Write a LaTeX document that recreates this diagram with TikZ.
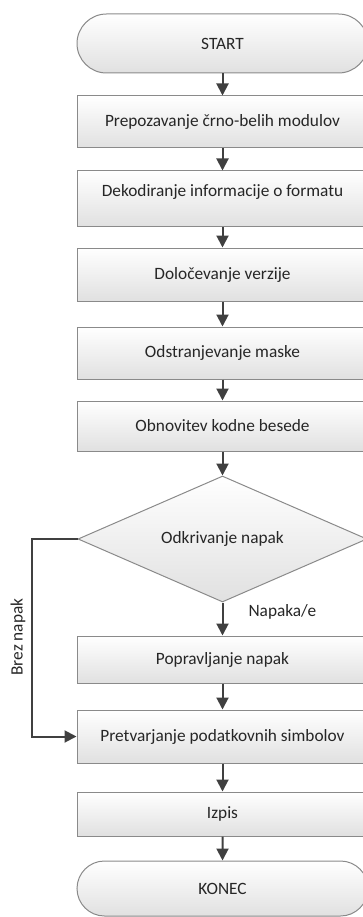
\documentclass[tikz,border=0pt]{standalone}
\usepackage{fontspec}
\setmainfont{Carlito}
\usetikzlibrary{shapes.geometric,shapes.misc,arrows.meta}
\definecolor{linec}{HTML}{404040}
\definecolor{bordc}{HTML}{8A8A8A}
\tikzset{
  x=1pt,y=-1pt,
  every node/.style={font=\fontsize{17.3}{20}\selectfont, text=black!85},
  procbox/.style={draw=bordc, line width=1pt, rectangle, minimum width=291pt,
    top color=white, bottom color=black!12, inner sep=0pt},
  termbox/.style={draw=bordc, line width=1pt, rounded rectangle, minimum width=291pt,
    top color=white, bottom color=black!12, inner sep=0pt},
  decbox/.style={draw=bordc, line width=1pt, diamond, aspect=2.29,
    minimum width=289pt, minimum height=126pt,
    top color=white, bottom color=black!12, inner sep=0pt},
  flow/.style={draw=linec, line width=2pt, -{Triangle[width=12pt,length=12pt]}},
}
\begin{document}
\begin{tikzpicture}
\useasboundingbox (0,0) rectangle (363,917);
\node[termbox, minimum height=59pt] (start) at (222.5,43.5) {START};
\node[procbox, minimum height=52pt] (b1) at (222.5,122) {Prepozavanje črno-belih modulov};
\node[procbox, minimum height=56pt, text depth=18pt] (b2) at (222.5,199) {Dekodiranje informacije o formatu};
\node[procbox, minimum height=53pt] (b3) at (222.5,274.5) {Določevanje verzije};
\node[procbox, minimum height=52pt] (b4) at (222.5,353) {Odstranjevanje maske};
\node[procbox, minimum height=50pt] (b5) at (222.5,426) {Obnovitev kodne besede};
\node[decbox] (dec) at (222.5,539) {Odkrivanje napak};
\node[procbox, minimum height=47pt] (b6) at (222.5,659.5) {Popravljanje napak};
\node[procbox, minimum height=53pt] (b7) at (222.5,736.5) {Pretvarjanje podatkovnih simbolov};
\node[procbox, minimum height=44pt] (b8) at (222.5,814) {Izpis};
\node[termbox, minimum height=55pt] (konec) at (222.5,888.5) {KONEC};
\coordinate (cL) at (32,539);
\draw[flow] (start) -- (b1);
\draw[flow] (b1) -- (b2);
\draw[flow] (b2) -- (b3);
\draw[flow] (b3) -- (b4);
\draw[flow] (b4) -- (b5);
\draw[flow] (b5) -- (dec);
\draw[flow] (dec) -- (b6);
\draw[flow] (b6) -- (b7);
\draw[flow] (b7) -- (b8);
\draw[flow] (b8) -- (konec);
\draw[flow] (dec.west) -- (cL) |- (b7.west);
\node[rotate=90] (brez) at (18,637) {Brez napak};
\node[anchor=west] (nap) at (245,612) {Napaka/e};
\end{tikzpicture}
\end{document}
